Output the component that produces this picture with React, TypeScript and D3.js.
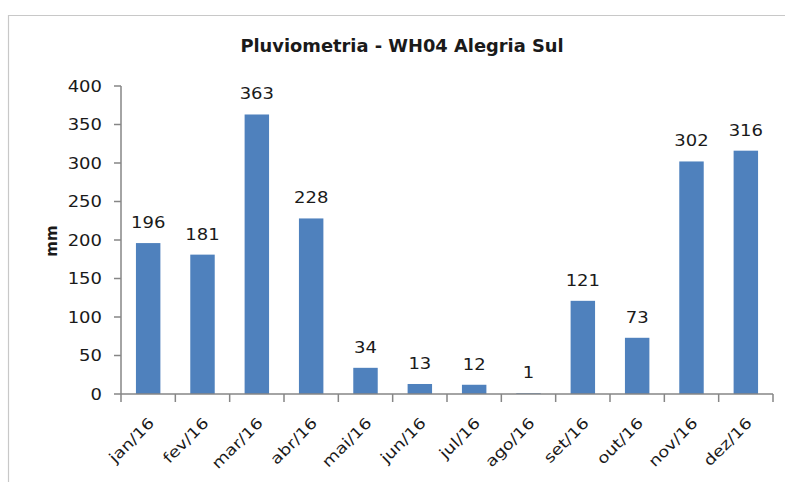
import React from "react";
import * as d3 from "d3";

const categories = ["jan/16", "fev/16", "mar/16", "abr/16", "mai/16", "jun/16", "jul/16", "ago/16", "set/16", "out/16", "nov/16", "dez/16"];
const values = [196, 181, 363, 228, 34, 13, 12, 1, 121, 73, 302, 316];
const yTicks = [0, 50, 100, 150, 200, 250, 300, 350, 400];
const title = "Pluviometria - WH04 Alegria Sul";
const yTitle = "mm";

const W = 785, H = 482;
const plot = { left: 121, right: 773, top: 86, bottom: 394 };
const font = "'DejaVu Sans', Verdana, sans-serif";
const ink = "#1a1a1a";
const SX = 1.2;

function T({ x, y, rot = 0, sx = SX, anchor = "middle", size = 15, bold = false, children }: any) {
  return (
    <text transform={`translate(${x},${y}) rotate(${rot}) scale(${sx},1)`} textAnchor={anchor} fontFamily={font} fontSize={size} fontWeight={bold ? "bold" : "normal"} fill={ink}>{children}</text>
  );
}

export default function App() {
  const x = d3.scaleBand<string>().domain(categories).range([plot.left, plot.right]).paddingInner(0.55).paddingOuter(0.275);
  const y = d3.scaleLinear().domain([0, 400]).range([plot.bottom, plot.top]);
  const step = (plot.right - plot.left) / categories.length;
  const axisColor = "#868686";
  return (
    <svg width={W} height={H} style={{ position: "absolute", left: 0, top: 0, background: "#fff" }}>
      <line x1={8} y1={15.5} x2={W} y2={15.5} stroke="#c8c8c8" strokeWidth={1.2} />
      <line x1={8.5} y1={15} x2={8.5} y2={H} stroke="#c8c8c8" strokeWidth={1.2} />
      <T x={402} y={52} size={17} sx={1.05} bold>{title}</T>
      <T x={57} y={241} rot={-90} sx={1} size={15} bold>{yTitle}</T>
      {values.map((v, i) => (
        <rect key={categories[i]} x={x(categories[i])} y={y(v)} width={x.bandwidth()} height={y(0) - y(v)} fill="#4f81bd" />
      ))}
      {values.map((v, i) => (
        <T key={"l" + i} x={(x(categories[i]) as number) + x.bandwidth() / 2} y={y(v) - 15}>{v}</T>
      ))}
      <line x1={plot.left} y1={plot.top} x2={plot.left} y2={plot.bottom} stroke={axisColor} strokeWidth={1.5} />
      {yTicks.map(t => (
        <g key={t}>
          <line x1={plot.left - 7} x2={plot.left} y1={y(t)} y2={y(t)} stroke={axisColor} strokeWidth={1.5} />
          <T x={102} y={y(t) + 5.5} anchor="end">{t}</T>
        </g>
      ))}
      <line x1={plot.left} y1={plot.bottom} x2={plot.right} y2={plot.bottom} stroke={axisColor} strokeWidth={1.5} />
      {d3.range(categories.length + 1).map(i => (
        <line key={"t" + i} x1={plot.left + i * step} x2={plot.left + i * step} y1={plot.bottom} y2={plot.bottom + 8} stroke={axisColor} strokeWidth={1.5} />
      ))}
      {categories.map(c => (
        <T key={c} x={(x(c) as number) + x.bandwidth() / 2 + 7} y={plot.bottom + 30} rot={-45} anchor="end">{c}</T>
      ))}
    </svg>
  );
}
